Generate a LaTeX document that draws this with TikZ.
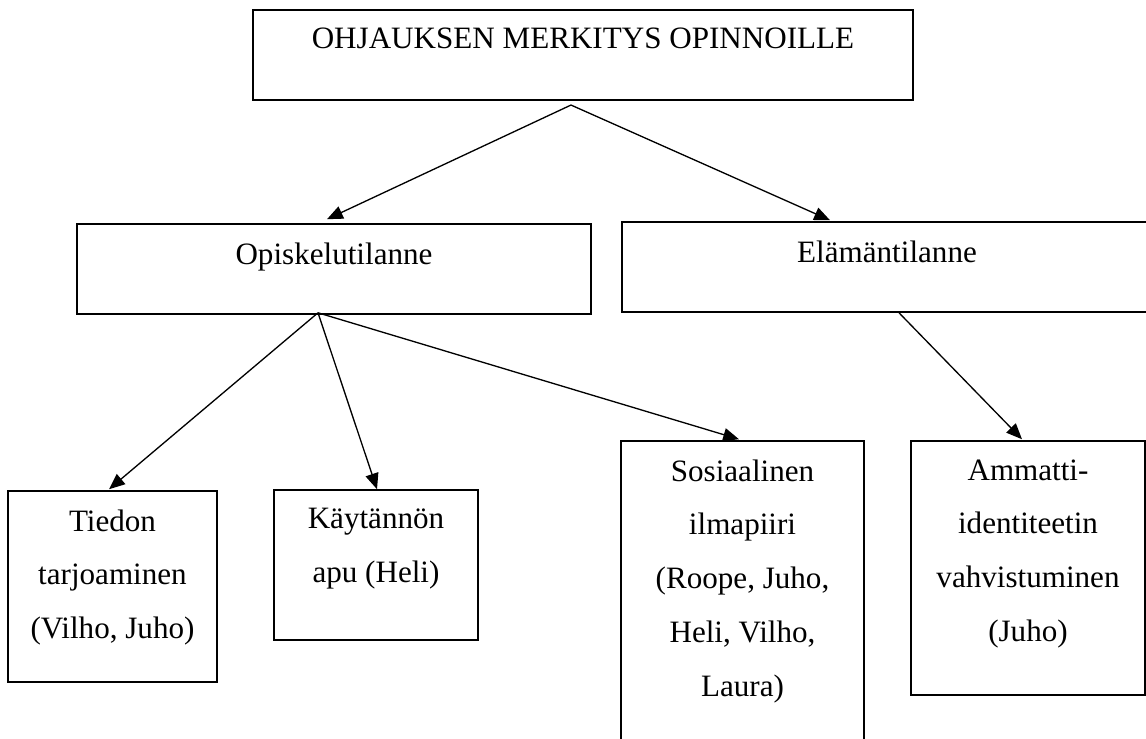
\documentclass[tikz,border=0pt]{standalone}
\usepackage{fontspec}
\setmainfont{Liberation Serif}
\usepackage{tikz}
\usetikzlibrary{positioning,calc,arrows.meta}

\begin{document}
\begin{tikzpicture}[x=0.02cm,y=-0.02cm]%[scale=2.5]
\useasboundingbox (0,0) rectangle (1146,738);
\clip (0,0) rectangle (1146,738);
\tikzstyle{box}=[draw,line width=0.9pt,shape=rectangle,inner sep=0pt];
\tikzstyle{txt}=[anchor=north,inner sep=0pt,align=center,
  font=\fontsize{17.7}{30.6}\selectfont];
\tikzstyle{arr}=[line width=0.75pt,-{Triangle[length=9pt,width=7.5pt]}];

\node[box,minimum width=13.2cm,minimum height=1.81cm] (top) at (583,55) {};
\node[box,minimum width=10.28cm,minimum height=1.8cm] (opi) at (334,269) {};
\node[box,minimum width=10.6cm,minimum height=1.8cm] (ela) at (887,267) {};
\node[box,minimum width=4.18cm,minimum height=3.82cm] (tie) at (112.5,586.5) {};
\node[box,minimum width=4.08cm,minimum height=3cm] (kay) at (376,565) {};
\node[box,minimum width=4.86cm,minimum height=6.58cm] (sos) at (742.5,605.5) {};
\node[box,minimum width=4.68cm,minimum height=5.08cm] (amm) at (1028,568) {};

\node[txt] (t0) at ($(top.north)+(0,19)$) {OHJAUKSEN MERKITYS OPINNOILLE};
\node[txt] (t1) at ($(opi.north)+(0,19)$) {Opiskelutilanne};
\node[txt] (t2) at ($(ela.north)+(0,19)$) {Elämäntilanne};
\node[txt] (t3) at ($(tie.north)+(0,19)$) {Tiedon\\tarjoaminen\\(Vilho, Juho)};
\node[txt] (t4) at ($(kay.north)+(0,19)$) {Käytännön\\apu (Heli)};
\node[txt] (t5) at ($(sos.north)+(0,19)$) {Sosiaalinen\\ilmapiiri\\(Roope, Juho,\\Heli, Vilho,\\Laura)};
\node[txt] (t6) at ($(amm.north)+(0,19)$) {Ammatti-\\identiteetin\\vahvistuminen\\(Juho)};

\coordinate (f0) at ($(top.south)+(-12,4)$);
\coordinate (f1) at ($(opi.south)+(-16,-2)$);
\coordinate (f2) at ($(ela.south)+(12,0)$);
\draw[arr] (f0) -- ($(opi.north)+(-7,-4)$);
\draw[arr] (f0) -- ($(ela.north)+(-57,-1)$);
\draw[arr] (f1) -- ($(tie.north)+(-3.5,-1)$);
\draw[arr] (f1) -- ($(kay.north)+(1,0)$);
\draw[arr] (f1) -- ($(sos.north)+(-3.5,-1)$);
\draw[arr] (f2) -- ($(amm.north)+(-6,-1)$);
\end{tikzpicture}
\end{document}
